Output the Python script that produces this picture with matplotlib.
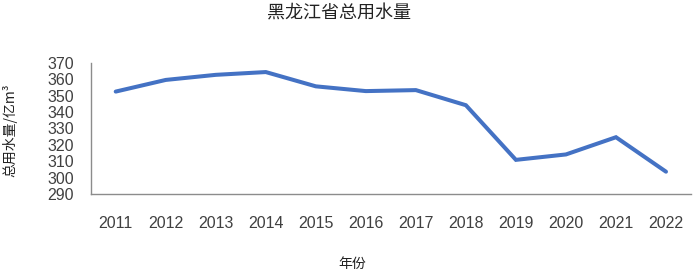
import matplotlib.pyplot as plt

plt.rcParams['font.family'] = ['Liberation Sans Narrow', 'Liberation Sans', 'Noto Sans CJK SC', 'DejaVu Sans']

# 数据
years = ['2011', '2012', '2013', '2014', '2015', '2016', '2017', '2018', '2019', '2020', '2021', '2022']
water = [352.4, 359.5, 362.6, 364.3, 355.6, 352.7, 353.3, 344.1, 310.8, 314.1, 324.6, 303.6]
yticks = [290, 300, 310, 320, 330, 340, 350, 360, 370]

fig = plt.figure(figsize=(6.94, 2.76), dpi=100)
ax = fig.add_axes([90.7 / 694, 1 - 194 / 276, (691 - 90.7) / 694, (194 - 62.7) / 276])

x = range(len(years))
ax.plot(x, water, color='#4472C4', linewidth=2.9, solid_capstyle='round', solid_joinstyle='miter')

ax.set_xlim(-0.5, len(years) - 0.5)
ax.set_ylim(290, 370)
ax.set_xticks(list(x))
ax.set_xticklabels(years)
ax.set_yticks(yticks)
ax.tick_params(axis='both', length=0, labelsize=11.5, colors='#404040')
ax.tick_params(axis='x', pad=16)
ax.tick_params(axis='y', pad=12)
for s in ['top', 'right']:
    ax.spines[s].set_visible(False)
for s in ['left', 'bottom']:
    ax.spines[s].set_color('#8c8c8c')
    ax.spines[s].set_linewidth(1.0)

cjk = ['Noto Sans CJK SC', 'DejaVu Sans']
fig.text(339 / 694, 1 - 14 / 276, '黑龙江省总用水量', ha='center', va='center', fontsize=13, family=cjk, color='#222222')
fig.text(352 / 694, 1 - 264 / 276, '年份', ha='center', va='center', fontsize=10, family=cjk, color='#222222')
fig.text(10 / 694, 1 - 130 / 276, '总用水量/亿m³', ha='center', va='center', rotation=90, fontsize=10, family=cjk, color='#222222')

plt.savefig('out.png', dpi=100)
